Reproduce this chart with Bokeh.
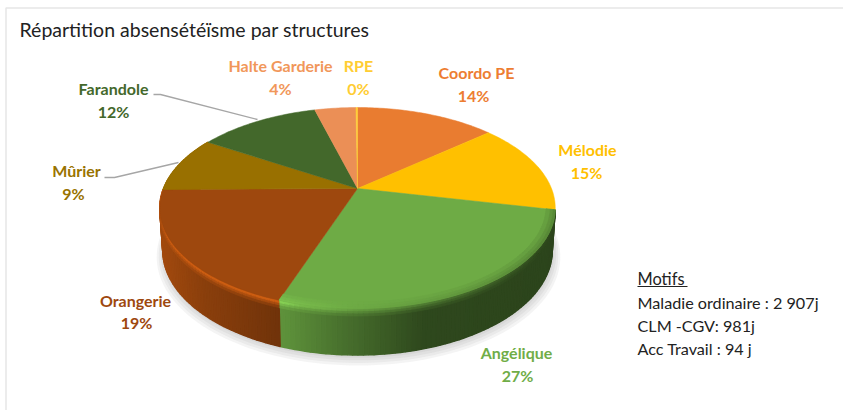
import numpy as np
from bokeh.plotting import figure
from bokeh.models import Range1d
from bokeh.embed import file_html
from bokeh.resources import INLINE
from bokeh.core.properties import value

# Data
categories = ["Coordo PE", "Mélodie", "Angélique", "Orangerie", "Mûrier", "Farandole", "Halte Garderie", "RPE"]
shares = [13.7, 14.6, 26.9, 19.4, 9.0, 11.9, 4.05, 0.15]
percent_labels = ["14%", "15%", "27%", "19%", "9%", "12%", "4%", "0%"]
face_colors = ["#E97C30", "#FFC000", "#6EAB45", "#9E480E", "#997000", "#43682B", "#EB8F56", "#FFCD33"]
label_colors = ["#ED7D31", "#FFC000", "#70AD47", "#9E480E", "#997300", "#43682B", "#F1975A", "#FFCD33"]
name_pos = [(476, 72), (587, 149), (516, 352), (135, 300), (76, 170), (113, 88), (280, 65), (358, 65)]
pct_pos = [(473, 95), (586, 172), (517, 375), (136, 322), (73, 193), (113, 111), (280, 88), (358, 88)]
title = "Répartition absensétéïsme par structures"
notes_title = "Motifs"
notes = ["Maladie ordinaire : 2 907j", "CLM -CGV: 981j", "Acc Travail : 94 j"]

# Perspective projection of the disc (page pixel coordinates)
CX, CY, RX, RY, K = 357.0, 188.0, 194.0, 96.7, 0.194
CY2, RX2, RY2 = 229.7, 191.0, 100.6


def proj(theta, r=1.0, low=False):
    u, v = r * np.sin(theta), r * np.cos(theta)
    d = 1 + K * v
    if low:
        return CX + RX2 * u / d, CY2 - RY2 * v / d
    return CX + RX * u / d, CY - RY * v / d


def hexrgb(h):
    return np.array([int(h[i:i + 2], 16) for i in (1, 3, 5)], float)


def tohex(c):
    return "#%02x%02x%02x" % tuple(int(np.clip(round(a), 0, 255)) for a in c)


p = figure(width=843, height=410, output_backend="svg", toolbar_location=None,
           x_range=Range1d(0, 843), y_range=Range1d(410, 0), min_border=0,
           x_axis_type=None, y_axis_type=None)
p.grid.visible = False
p.outline_line_color = None
p.background_fill_color = "white"
p.border_fill_color = "white"

# Frame
p.line([843, 5.5, 5.5], [7.5, 7.5, 410], line_color="#e6e6e6", line_width=1.5)

# Soft shadow under the disc
full = np.linspace(0, 2 * np.pi, 181)
for s, dy in [(1.035, 5), (1.025, 4), (1.015, 3), (1.005, 2)]:
    sx, sy = proj(full, s, low=True)
    p.patch(sx + 1, sy + dy, fill_color="#808080", fill_alpha=0.09, line_color=None)

edges = np.cumsum([0.0] + shares) / sum(shares) * 2 * np.pi

# Side wall, lit according to horizontal position
wall_light = {
    2: ([283, 340, 423, 552], [0.85, 0.66, 0.42, 0.40]),
    3: ([160, 200, 282], [1.02, 0.88, 0.70]),
    4: ([160, 170], [1.0, 1.0]),
}
rim_light = {
    2: ([283, 300, 423, 552], [1.22, 1.08, 0.72, 0.42]),
    3: ([160, 200, 282], [1.28, 1.3, 1.3]),
    4: ([160, 170], [1.0, 1.0]),
}
wx, wy, wc = [], [], []
bx, by, bc = [], [], []
for i, light in wall_light.items():
    base = hexrgb(face_colors[i])
    n = max(2, int((edges[i + 1] - edges[i]) * 45))
    th = np.linspace(edges[i], edges[i + 1], n)
    for a, b in zip(th[:-1], th[1:]):
        xa, ya = proj(a)
        xb, yb = proj(b)
        xc, yc = proj(b, low=True)
        xd, yd = proj(a, low=True)
        mid = (xa + xb) / 2
        f = np.interp(mid, *light)
        fr = np.interp(mid, *rim_light[i])
        wx.append([xa, xb, xc, xd])
        wy.append([ya, yb, yc, yd])
        wc.append(tohex(base * f))
        # bevel strips just under the rim
        for t0, t1, mix in [(0.10, 0.16, 0.25), (0.05, 0.10, 0.6), (0.0, 0.05, 1.0)]:
            g = f + (fr - f) * mix
            bx.append([xa + (xd - xa) * t0, xb + (xc - xb) * t0, xb + (xc - xb) * t1, xa + (xd - xa) * t1])
            by.append([ya + (yd - ya) * t0, yb + (yc - yb) * t0, yb + (yc - yb) * t1, ya + (yd - ya) * t1])
            bc.append(tohex(base * g))
p.patches(wx, wy, fill_color=wc, line_color=wc, line_width=1.5)
p.patches(bx, by, fill_color=bc, line_color=bc, line_width=0.8)

# Top faces
fx, fy = [], []
for i in range(len(shares)):
    n = max(3, int((edges[i + 1] - edges[i]) * 60))
    th = np.linspace(edges[i], edges[i + 1], n)
    ax, ay = proj(th)
    fx.append([CX] + list(ax))
    fy.append([CY] + list(ay))
p.patches(fx, fy, fill_color=face_colors, line_color=face_colors, line_width=0.5)

# Shaded band along the front rim of the top face
sx_, sy_, sc_ = [], [], []
shade_light = ([283, 350, 423, 552], [1.12, 1.0, 0.92, 0.8])
base = hexrgb(face_colors[2])
th = np.linspace(edges[2], edges[3], int((edges[3] - edges[2]) * 45))
for a, b in zip(th[:-1], th[1:]):
    mid = (proj(a)[0] + proj(b)[0]) / 2
    f = np.interp(mid, *shade_light)
    for r0, r1, mix in [(0.955, 0.975, 0.35), (0.975, 0.99, 0.7), (0.99, 1.0, 1.0)]:
        g = 1 + (f - 1) * mix
        a0, a1 = proj(a, r0), proj(b, r0)
        b1, b0 = proj(b, r1), proj(a, r1)
        sx_.append([a0[0], a1[0], b1[0], b0[0]])
        sy_.append([a0[1], a1[1], b1[1], b0[1]])
        sc_.append(tohex(base * g))
p.patches(sx_, sy_, fill_color=sc_, line_color=sc_, line_width=0.6)

# Leader lines
p.line([153, 160, 257], [94, 94, 119], line_color="#a6a6a6", line_width=1.3)
p.line([104, 114, 178], [177, 177, 162], line_color="#a6a6a6", line_width=1.3)

# Labels
FONT = value("Lato")
p.text(x=[q[0] for q in name_pos], y=[q[1] for q in name_pos], text=categories,
       text_color=label_colors, text_font=FONT, text_font_size="16px", text_font_style="bold",
       text_align="center", text_baseline="middle")
p.text(x=[q[0] for q in pct_pos], y=[q[1] for q in pct_pos], text=percent_labels,
       text_color=label_colors, text_font=FONT, text_font_size="16px", text_font_style="bold",
       text_align="center", text_baseline="middle")

# Title
p.text(x=[19], y=[29], text=[title], text_color="#222222", text_font=FONT, text_font_size="19.5px",
       text_align="left", text_baseline="middle")

# Notes
p.text(x=[637], y=[278], text=[notes_title], text_color="#222222", text_font=FONT, text_font_size="16.4px",
       text_align="left", text_baseline="middle")
p.line([637, 687], [286, 286], line_color="#222222", line_width=1)
p.text(x=[637, 637, 637], y=[302, 325, 348], text=notes, text_color="#222222", text_font=FONT,
       text_font_size="16.2px", text_align="left", text_baseline="middle")

open("out.html", "w").write(file_html(p, INLINE))
